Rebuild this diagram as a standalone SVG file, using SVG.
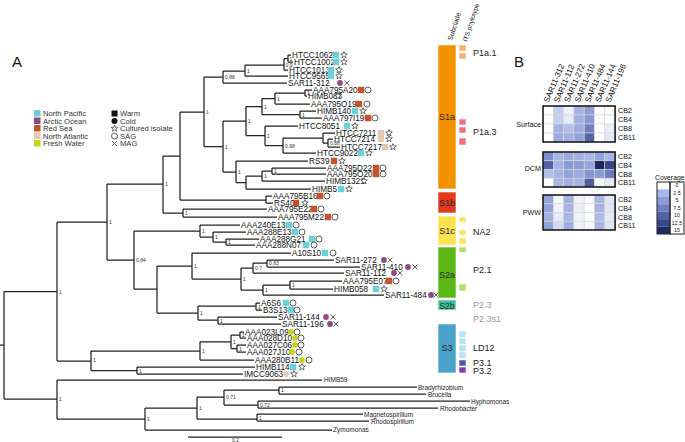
<svg xmlns="http://www.w3.org/2000/svg" xmlns:xlink="http://www.w3.org/1999/xlink" width="685" height="442" viewBox="0 0 685 442">
<style>
text{font-family:"Liberation Sans",Arial,sans-serif}
.br{fill:none;stroke:#222;stroke-width:1.25}
.tl{font-size:8.2px;fill:#111}
.sv{font-size:5px;fill:#333}
.og{font-size:6.5px;fill:#222}
.lg{font-size:7.6px;fill:#333}
.cl{font-size:9px;fill:#222}
.bl{font-size:9px;fill:#2a2a2a;text-anchor:middle}
.gr{font-size:9px;fill:#9a9a9a}
.hl{font-size:7.2px;fill:#111}
.hc{font-size:8px;fill:#111}
.hm rect{stroke:#d8d8d8;stroke-width:0.6}
.box{fill:none;stroke:#111;stroke-width:1.5}
.np{fill:#6ecfd6}.ao{fill:#8c4a86}.rs{fill:#c4522a}.na{fill:#e2cab2}.fw{fill:#c8d41a}
</style>
<defs>
<rect id="sq" x="-3.2" y="-3.2" width="6.4" height="6.4"/>
<circle id="ci" r="2.9"/>
<circle id="oc" r="3" fill="none" stroke="#333" stroke-width="0.8"/>
<polygon id="st" points="0,-3.5 0.88,-1.21 3.33,-1.08 1.43,0.46 2.06,2.83 0,1.5 -2.06,2.83 -1.43,0.46 -3.33,-1.08 -0.88,-1.21" fill="#fff" stroke="#333" stroke-width="0.7"/>
<path id="mx" d="M-2.5,-2.5L2.5,2.5M-2.5,2.5L2.5,-2.5" stroke="#555" stroke-width="0.9" fill="none"/>
</defs>
<rect width="685" height="442" fill="#fff"/>

<text x="12" y="67" style="font-size:15px" fill="#111">A</text>
<text x="514" y="67" style="font-size:15px" fill="#111">B</text>

<g id="legend">
<rect x="34" y="110" width="6.5" height="6.5" class="np"/><text x="43" y="116" class="lg">North Pacific</text>
<rect x="34" y="117.5" width="6.5" height="6.5" class="ao"/><text x="43" y="123.5" class="lg">Arctic Ocean</text>
<rect x="34" y="125" width="6.5" height="6.5" class="rs"/><text x="43" y="131" class="lg">Red Sea</text>
<rect x="34" y="132.5" width="6.5" height="6.5" class="na"/><text x="43" y="138.5" class="lg">North Atlantic</text>
<rect x="34" y="140" width="6.5" height="6.5" class="fw"/><text x="43" y="146" class="lg">Fresh Water</text>
<rect x="111.5" y="110.5" width="6" height="6" fill="#111"/><text x="120" y="116" class="lg">Warm</text>
<circle cx="114.5" cy="121" r="3" fill="#111"/><text x="120" y="123.5" class="lg">Cold</text>
<use href="#st" x="114.5" y="128.5"/><text x="120" y="131" class="lg">Cultured isolate</text>
<use href="#oc" x="114.5" y="136"/><text x="120" y="138.5" class="lg">SAG</text>
<use href="#mx" x="114.5" y="143.5"/><text x="120" y="146" class="lg">MAG</text>
</g>

<g id="branches">
<path class="br" d="M0,345H4M4,291.5V399M4,291.5H57M57,222V361M57,222H107M107,184V260M107,184H163M163,156V213M163,156H180M180,112V200M180,112H204M204,77V146.5M204,77H223M223,71V83M223,71H245M245,65V76M245,65H284M284,58.5V70M284,58.5H288M288,55V62M288,55H291M288,62H293M284,70H288M245,76H288M223,83H287M204,146.5H223M223,121V172M223,121H246M246,106.5V135.5M246,106.5H262M262,98.5V114.5M262,98.5H275M275,93V104M275,93H305M305,90V96M305,90H312M305,96H307M275,104H310M262,114.5H300M300,111V118M300,111H316M300,118H322M246,135.5H265M265,126V145.5M265,126H298M265,145.5H283M283,138V153M283,138H323M323,133V143M323,133H335M323,143H328M328,139V147M328,139H333M328,147H340M283,153H316M223,172H236M236,161V182.5M236,161H308M236,182.5H246M246,176V189M246,176H262M262,171V181M262,171H272M272,168V174M272,168H326M272,174H326M262,181H325M246,189H311M180,200H266M266,196V203M266,196H272M266,203H273M163,213H183M183,209V217M183,209H267M183,217H277M107,260H134M134,231V289M134,231H200M200,225V237M200,225H240M200,237H213M213,232V242M213,232H246M213,242H226M226,239V245M226,239H259M226,245H255M134,289H157M157,266V313M157,266H192M192,253V279M192,253H291M192,279H241M241,268V290M241,268H253M253,263V273M253,263H267M267,260V267M267,260H334M267,267H360M253,273H344M241,290H263M263,285V295M263,285H290M290,281V289M290,281H342M290,289H333M263,295H384M157,313H198M198,306V320M198,306H256M256,303V310M256,303H260M256,310H262M198,320H218M218,317V324M218,317H277M218,324H281M57,361H91M91,351V370.5M91,351H200M200,341.75V360M200,341.75H231M231,335V348.5M231,335H240M240,332V338M240,332H244M240,338H246M231,348.5H237M237,345V352M237,345H246M237,352H246M200,360H254M91,370.5H137M137,367V374M137,367H255M137,374H243M4,399H57M57,380V419M57,380H322M57,419H145M145,408V430M145,408H197M197,397V419M197,397H224M224,390V405M224,390H279M279,387V394M279,387H417M279,394H426M224,405H258M258,401V408M258,401H470M258,408H438M197,419H257M257,414V421M257,414H363M257,421H369M145,430H332"/>
<path class="br" d="M188,437H282"/>
</g>

<g id="support">
<text class="sv" x="59" y="293.5">1</text>
<text class="sv" x="109" y="224">1</text>
<text class="sv" x="165" y="186">1</text>
<text class="sv" x="206" y="114">1</text>
<text class="sv" x="225" y="79">0.88</text>
<text class="sv" x="247" y="73">1</text>
<text class="sv" x="285.5" y="66.5">0.9</text>
<text class="sv" x="289.5" y="60.5">1</text>
<text class="sv" x="225" y="148.5">1</text>
<text class="sv" x="248" y="123">1</text>
<text class="sv" x="264" y="108.5">1</text>
<text class="sv" x="277" y="100.5">1</text>
<text class="sv" x="307" y="95">1</text>
<text class="sv" x="302" y="116.5">1</text>
<text class="sv" x="267" y="137.5">1</text>
<text class="sv" x="285" y="147.5">0.98</text>
<text class="sv" x="330" y="145">0.88</text>
<text class="sv" x="238" y="174">1</text>
<text class="sv" x="264" y="178">1</text>
<text class="sv" x="274" y="173">1</text>
<text class="sv" x="185" y="215">1</text>
<text class="sv" x="136" y="262">0.84</text>
<text class="sv" x="202" y="233">1</text>
<text class="sv" x="215" y="239">1</text>
<text class="sv" x="228" y="244">1</text>
<text class="sv" x="194" y="268">1</text>
<text class="sv" x="243" y="281">1</text>
<text class="sv" x="255" y="270">0.7</text>
<text class="sv" x="269" y="264.5">0.63</text>
<text class="sv" x="265" y="292">1</text>
<text class="sv" x="292" y="287">1</text>
<text class="sv" x="200" y="315">1</text>
<text class="sv" x="258" y="308.5">1</text>
<text class="sv" x="220" y="322.5">1</text>
<text class="sv" x="93" y="362">1</text>
<text class="sv" x="202" y="353">1</text>
<text class="sv" x="233" y="344">1</text>
<text class="sv" x="242" y="337">1</text>
<text class="sv" x="239" y="350.5">1</text>
<text class="sv" x="139" y="372.5">1</text>
<text class="sv" x="59" y="401">1</text>
<text class="sv" x="147" y="421">1</text>
<text class="sv" x="199" y="410">1</text>
<text class="sv" x="226" y="399">0.71</text>
<text class="sv" x="281" y="392">1</text>
<text class="sv" x="260" y="406.5">0.72</text>
<text class="sv" x="259" y="419.5">1</text>
<text class="sv" x="232" y="441.5">0.2</text>
</g>

<g id="tips">
<g id="t-HTCC1062"><text class="tl" x="292" y="58">HTCC1062</text><use href="#sq" x="336" y="55" class="np"/><use href="#st" x="344" y="55"/></g>
<g id="t-HTCC1002"><text class="tl" x="294" y="65">HTCC1002</text><use href="#sq" x="336" y="62" class="np"/><use href="#st" x="344" y="62"/></g>
<g id="t-HTCC1013"><text class="tl" x="289" y="73">HTCC1013</text><use href="#sq" x="331" y="70" class="np"/><use href="#st" x="339" y="70"/></g>
<g id="t-HTCC9565"><text class="tl" x="289" y="79">HTCC9565</text><use href="#sq" x="331" y="76" class="np"/><use href="#st" x="339" y="76"/></g>
<g id="t-SAR11-312"><text class="tl" x="288" y="86">SAR11-312</text><use href="#ci" x="340" y="83" class="ao"/><use href="#mx" x="347" y="83"/></g>
<g id="t-AAA795A20"><text class="tl" x="313" y="93">AAA795A20</text><use href="#sq" x="361" y="90" class="rs"/><use href="#oc" x="368" y="90"/></g>
<g id="t-HIMB083"><text class="tl" x="308" y="99">HIMB083</text><use href="#st" x="338" y="96"/></g>
<g id="t-AAA795O19"><text class="tl" x="311" y="107">AAA795O19</text><use href="#sq" x="359" y="104" class="rs"/><use href="#oc" x="367" y="104"/></g>
<g id="t-HIMB140"><text class="tl" x="317" y="114">HIMB140</text><use href="#sq" x="355" y="111" class="np"/><use href="#st" x="363" y="111"/></g>
<g id="t-AAA797I19"><text class="tl" x="323" y="121">AAA797I19</text><use href="#sq" x="368" y="118" class="rs"/><use href="#oc" x="375" y="118"/></g>
<g id="t-HTCC8051"><text class="tl" x="299" y="129">HTCC8051</text><use href="#sq" x="347" y="126" class="np"/><use href="#st" x="355" y="126"/></g>
<g id="t-HTCC7211"><text class="tl" x="336" y="136">HTCC7211</text><use href="#sq" x="381" y="133" class="na"/><use href="#st" x="389" y="133"/></g>
<g id="t-HTCC7214"><text class="tl" x="334" y="142">HTCC7214</text><use href="#sq" x="381" y="139" class="na"/><use href="#st" x="389" y="139"/></g>
<g id="t-HTCC7217"><text class="tl" x="341" y="150">HTCC7217</text><use href="#sq" x="385" y="147" class="na"/><use href="#st" x="393" y="147"/></g>
<g id="t-HTCC9022"><text class="tl" x="317" y="156">HTCC9022</text><use href="#sq" x="361" y="153" class="np"/><use href="#st" x="369" y="153"/></g>
<g id="t-RS39"><text class="tl" x="309" y="164">RS39</text><use href="#sq" x="334" y="161" class="rs"/><use href="#st" x="342" y="161"/></g>
<g id="t-AAA795D22"><text class="tl" x="327" y="171">AAA795D22</text><use href="#sq" x="376" y="168" class="rs"/><use href="#oc" x="383" y="168"/></g>
<g id="t-AAA795O20"><text class="tl" x="327" y="177">AAA795O20</text><use href="#sq" x="376" y="174" class="rs"/><use href="#oc" x="383" y="174"/></g>
<g id="t-HIMB1321"><text class="tl" x="326" y="184">HIMB1321</text><use href="#st" x="364" y="181"/></g>
<g id="t-HIMB5"><text class="tl" x="312" y="192">HIMB5</text><use href="#sq" x="341" y="189" class="np"/><use href="#st" x="349" y="189"/></g>
<g id="t-AAA795B16"><text class="tl" x="273" y="199">AAA795B16</text><use href="#sq" x="320" y="196" class="rs"/><use href="#oc" x="327" y="196"/></g>
<g id="t-RS40"><text class="tl" x="274" y="206">RS40</text><use href="#sq" x="296" y="203" class="rs"/><use href="#st" x="305" y="203"/></g>
<g id="t-AAA795E22"><text class="tl" x="268" y="212">AAA795E22</text><use href="#sq" x="314" y="209" class="rs"/><use href="#oc" x="321" y="209"/></g>
<g id="t-AAA795M22"><text class="tl" x="278" y="220">AAA795M22</text><use href="#sq" x="328" y="217" class="rs"/><use href="#oc" x="335" y="217"/></g>
<g id="t-AAA240E13"><text class="tl" x="241" y="228">AAA240E13</text><use href="#sq" x="289" y="225" class="np"/><use href="#oc" x="296" y="225"/></g>
<g id="t-AAA288E13"><text class="tl" x="247" y="235">AAA288E13</text><use href="#sq" x="295" y="232" class="np"/><use href="#oc" x="302" y="232"/></g>
<g id="t-AAA288G21"><text class="tl" x="260" y="242">AAA288G21</text><use href="#sq" x="312" y="239" class="np"/><use href="#oc" x="319" y="239"/></g>
<g id="t-AAA288N07"><text class="tl" x="256" y="248">AAA288N07</text><use href="#sq" x="306" y="245" class="np"/><use href="#oc" x="314" y="245"/></g>
<g id="t-A10S10"><text class="tl" x="292" y="256">A10S10</text><use href="#sq" x="325" y="253" class="np"/><use href="#oc" x="333" y="253"/></g>
<g id="t-SAR11-272"><text class="tl" x="335" y="263">SAR11-272</text><use href="#ci" x="384" y="260" class="ao"/><use href="#mx" x="390" y="260"/></g>
<g id="t-SAR11-410"><text class="tl" x="361" y="270">SAR11-410</text><use href="#ci" x="408" y="267" class="ao"/><use href="#mx" x="415" y="267"/></g>
<g id="t-SAR11-112"><text class="tl" x="345" y="276">SAR11-112</text><use href="#ci" x="394" y="273" class="ao"/><use href="#mx" x="400" y="273"/></g>
<g id="t-AAA795E07"><text class="tl" x="343" y="284">AAA795E07</text><use href="#sq" x="389" y="281" class="rs"/><use href="#oc" x="396" y="281"/></g>
<g id="t-HIMB058"><text class="tl" x="334" y="292">HIMB058</text><use href="#sq" x="376" y="289" class="np"/><use href="#st" x="384" y="289"/></g>
<g id="t-SAR11-484"><text class="tl" x="385" y="298">SAR11-484</text><use href="#ci" x="431" y="295" class="ao"/><use href="#mx" x="436" y="295"/></g>
<g id="t-A6S6"><text class="tl" x="261" y="306">A6S6</text><use href="#sq" x="286" y="303" class="np"/><use href="#oc" x="293" y="303"/></g>
<g id="t-B3S13"><text class="tl" x="263" y="313">B3S13</text><use href="#sq" x="291" y="310" class="np"/><use href="#oc" x="297" y="310"/></g>
<g id="t-SAR11-144"><text class="tl" x="278" y="320">SAR11-144</text><use href="#ci" x="326" y="317" class="ao"/><use href="#mx" x="333" y="317"/></g>
<g id="t-SAR11-196"><text class="tl" x="282" y="327">SAR11-196</text><use href="#ci" x="330" y="324" class="ao"/><use href="#mx" x="336" y="324"/></g>
<g id="t-AAA023L09"><text class="tl" x="245" y="335">AAA023L09</text><use href="#ci" x="291" y="332" class="fw"/><use href="#oc" x="297" y="332"/></g>
<g id="t-AAA028D10"><text class="tl" x="247" y="341">AAA028D10</text><use href="#ci" x="295" y="338" class="fw"/><use href="#oc" x="301" y="338"/></g>
<g id="t-AAA027C06"><text class="tl" x="247" y="348">AAA027C06</text><use href="#ci" x="295" y="345" class="fw"/><use href="#oc" x="301" y="345"/></g>
<g id="t-AAA027J10"><text class="tl" x="247" y="355">AAA027J10</text><use href="#ci" x="292" y="352" class="fw"/><use href="#oc" x="299" y="352"/></g>
<g id="t-AAA280B11"><text class="tl" x="255" y="363">AAA280B11</text><use href="#ci" x="302" y="360" class="fw"/><use href="#oc" x="309" y="360"/></g>
<g id="t-HIMB114"><text class="tl" x="256" y="370">HIMB114</text><use href="#sq" x="293" y="367" class="np"/><use href="#st" x="302" y="367"/></g>
<g id="t-IMCC9063"><text class="tl" x="244" y="377">IMCC9063</text><use href="#ci" x="286" y="374" class="na"/><use href="#st" x="294" y="374"/></g>
<g id="t-HIMB59"><text class="og" x="324" y="381.5">HIMB59</text></g>
<g id="t-Bradyrhizobium"><text class="og" x="418" y="389.5">Bradyrhizobium</text></g>
<g id="t-Brucella"><text class="og" x="428" y="396.5">Brucella</text></g>
<g id="t-Hyphomonas"><text class="og" x="471" y="403.5">Hyphomonas</text></g>
<g id="t-Rhodobacter"><text class="og" x="440" y="410.5">Rhodobacter</text></g>
<g id="t-Magnetospirillum"><text class="og" x="364" y="416.5">Magnetospirillum</text></g>
<g id="t-Rhodospirillum"><text class="og" x="371" y="423.5">Rhodospirillum</text></g>
<g id="t-Zymomonas"><text class="og" x="333" y="432">Zymomonas</text></g>
</g>

<g id="clades">
<text transform="translate(452,41) rotate(-72)" style="font-size:7px" fill="#222">Subclade</text>
<text transform="translate(467,42) rotate(-72)" style="font-size:6.5px" fill="#222">ITS phylotype</text>
<g stroke="#fff" stroke-width="0.6">
<rect x="438" y="45" width="18" height="144" fill="#f39200"/>
<rect x="438" y="192" width="18" height="21" fill="#e33a1c"/>
<rect x="438" y="216" width="18" height="29" fill="#fbe24f"/>
<rect x="438" y="247" width="18" height="51" fill="#5bb714"/>
<rect x="438" y="300" width="18" height="10" fill="#3cc19b"/>
<rect x="438" y="324" width="18" height="49" fill="#4aa2c8"/>
<rect x="459" y="45" width="7" height="6" fill="#fbb06c"/>
<rect x="459" y="53" width="7" height="6" fill="#fbb06c"/>
<rect x="459" y="119" width="7" height="6" fill="#f26d82"/>
<rect x="459" y="127" width="7" height="6" fill="#f26d82"/>
<rect x="459" y="138" width="7" height="7" fill="#f26d82"/>
<rect x="459" y="217" width="7" height="5" fill="#fce45a"/>
<rect x="459" y="230" width="7" height="5" fill="#fce45a"/>
<rect x="459" y="238" width="7" height="6" fill="#fce45a"/>
<rect x="459" y="247" width="7" height="5.5" fill="#b3df6a"/>
<rect x="459" y="284" width="7" height="7" fill="#b3df6a"/>
<rect x="459" y="331" width="7" height="6.5" fill="#b8e2f2"/>
<rect x="459" y="338" width="7" height="6.5" fill="#b8e2f2"/>
<rect x="459" y="345" width="7" height="6.5" fill="#b8e2f2"/>
<rect x="459" y="352" width="7" height="6.5" fill="#b8e2f2"/>
<rect x="459" y="360" width="7" height="6" fill="#4657b0"/>
<rect x="459" y="367" width="7" height="6" fill="#7d3bb5"/>
</g>
<text class="bl" x="447" y="120">S1a</text>
<text class="bl" x="447" y="206">S1b</text>
<text class="bl" x="447" y="234">S1c</text>
<text class="bl" x="447" y="278">S2a</text>
<text class="bl" x="447" y="308.5" style="font-size:8.5px">S2b</text>
<text class="bl" x="447" y="351">S3</text>
<text class="cl" x="473" y="56">P1a.1</text>
<text class="cl" x="473" y="135">P1a.3</text>
<text class="cl" x="473" y="235">NA2</text>
<text class="cl" x="473" y="273">P2.1</text>
<text class="gr" x="473" y="308">P2.3</text>
<text class="gr" x="473" y="322">P2.3s1</text>
<text class="cl" x="473" y="351">LD12</text>
<text class="cl" x="473" y="366">P3.1</text>
<text class="cl" x="473" y="374">P3.2</text>
</g>

<g id="heatmap">
<g class="hc">
<text transform="translate(548.5,103) rotate(-67)">SAR11-312</text>
<text transform="translate(558.8,103) rotate(-67)">SAR11-112</text>
<text transform="translate(569.1,103) rotate(-67)">SAR11-272</text>
<text transform="translate(579.4,103) rotate(-67)">SAR11-410</text>
<text transform="translate(589.7,103) rotate(-67)">SAR11-484</text>
<text transform="translate(600,103) rotate(-67)">SAR11-144</text>
<text transform="translate(610.3,103) rotate(-67)">SAR11-196</text>
</g>
<g id="surface" class="hm">
<rect x="543" y="106" width="10.3" height="9" fill="#ffffff"/><rect x="553.3" y="106" width="10.3" height="9" fill="#c5cff0"/><rect x="563.6" y="106" width="10.3" height="9" fill="#eef1fb"/><rect x="573.9" y="106" width="10.3" height="9" fill="#a3b2e3"/><rect x="584.2" y="106" width="10.3" height="9" fill="#8d9ed9"/><rect x="594.5" y="106" width="10.3" height="9" fill="#ffffff"/><rect x="604.8" y="106" width="10.3" height="9" fill="#ffffff"/>
<rect x="543" y="115" width="10.3" height="9" fill="#ffffff"/><rect x="553.3" y="115" width="10.3" height="9" fill="#c5cff0"/><rect x="563.6" y="115" width="10.3" height="9" fill="#e6ebf8"/><rect x="573.9" y="115" width="10.3" height="9" fill="#a0afe2"/><rect x="584.2" y="115" width="10.3" height="9" fill="#8797d5"/><rect x="594.5" y="115" width="10.3" height="9" fill="#ffffff"/><rect x="604.8" y="115" width="10.3" height="9" fill="#ffffff"/>
<rect x="543" y="124" width="10.3" height="9" fill="#ffffff"/><rect x="553.3" y="124" width="10.3" height="9" fill="#a3b2e3"/><rect x="563.6" y="124" width="10.3" height="9" fill="#b3bfe8"/><rect x="573.9" y="124" width="10.3" height="9" fill="#9dabe0"/><rect x="584.2" y="124" width="10.3" height="9" fill="#6f81c4"/><rect x="594.5" y="124" width="10.3" height="9" fill="#ffffff"/><rect x="604.8" y="124" width="10.3" height="9" fill="#e9edf9"/>
<rect x="543" y="133" width="10.3" height="9" fill="#ffffff"/><rect x="553.3" y="133" width="10.3" height="9" fill="#9dacdf"/><rect x="563.6" y="133" width="10.3" height="9" fill="#a1afe1"/><rect x="573.9" y="133" width="10.3" height="9" fill="#95a5dc"/><rect x="584.2" y="133" width="10.3" height="9" fill="#5466a8"/><rect x="594.5" y="133" width="10.3" height="9" fill="#ffffff"/><rect x="604.8" y="133" width="10.3" height="9" fill="#e4e9f7"/>
</g>
<rect class="box" x="543" y="106" width="72.1" height="36"/>
<g id="dcm" class="hm">
<rect x="543" y="152" width="10.3" height="8.75" fill="#7d8fcf"/><rect x="553.3" y="152" width="10.3" height="8.75" fill="#a9b6e6"/><rect x="563.6" y="152" width="10.3" height="8.75" fill="#9aa9de"/><rect x="573.9" y="152" width="10.3" height="8.75" fill="#a3b1e2"/><rect x="584.2" y="152" width="10.3" height="8.75" fill="#a9b6e6"/><rect x="594.5" y="152" width="10.3" height="8.75" fill="#93a3db"/><rect x="604.8" y="152" width="10.3" height="8.75" fill="#a9b6e6"/>
<rect x="543" y="160.75" width="10.3" height="8.75" fill="#5062a8"/><rect x="553.3" y="160.75" width="10.3" height="8.75" fill="#a2b0e2"/><rect x="563.6" y="160.75" width="10.3" height="8.75" fill="#8899d6"/><rect x="573.9" y="160.75" width="10.3" height="8.75" fill="#8c9cd8"/><rect x="584.2" y="160.75" width="10.3" height="8.75" fill="#96a5dd"/><rect x="594.5" y="160.75" width="10.3" height="8.75" fill="#1b2660"/><rect x="604.8" y="160.75" width="10.3" height="8.75" fill="#37478a"/>
<rect x="543" y="169.5" width="10.3" height="8.75" fill="#b3bfe9"/><rect x="553.3" y="169.5" width="10.3" height="8.75" fill="#a6b4e4"/><rect x="563.6" y="169.5" width="10.3" height="8.75" fill="#93a3db"/><rect x="573.9" y="169.5" width="10.3" height="8.75" fill="#9aa9de"/><rect x="584.2" y="169.5" width="10.3" height="8.75" fill="#8595d2"/><rect x="594.5" y="169.5" width="10.3" height="8.75" fill="#8c9cd7"/><rect x="604.8" y="169.5" width="10.3" height="8.75" fill="#6a7bbf"/>
<rect x="543" y="178.25" width="10.3" height="8.75" fill="#ffffff"/><rect x="553.3" y="178.25" width="10.3" height="8.75" fill="#aab7e6"/><rect x="563.6" y="178.25" width="10.3" height="8.75" fill="#a3b1e2"/><rect x="573.9" y="178.25" width="10.3" height="8.75" fill="#a6b4e4"/><rect x="584.2" y="178.25" width="10.3" height="8.75" fill="#4d5f9f"/><rect x="594.5" y="178.25" width="10.3" height="8.75" fill="#f4f6fc"/><rect x="604.8" y="178.25" width="10.3" height="8.75" fill="#e4e9f7"/>
</g>
<rect class="box" x="543" y="152" width="72.1" height="35"/>
<g id="pww" class="hm">
<rect x="543" y="195" width="10.3" height="8.75" fill="#92a2db"/><rect x="553.3" y="195" width="10.3" height="8.75" fill="#f7f8fd"/><rect x="563.6" y="195" width="10.3" height="8.75" fill="#a3b1e2"/><rect x="573.9" y="195" width="10.3" height="8.75" fill="#f1f3fb"/><rect x="584.2" y="195" width="10.3" height="8.75" fill="#f7f8fd"/><rect x="594.5" y="195" width="10.3" height="8.75" fill="#aab6e6"/><rect x="604.8" y="195" width="10.3" height="8.75" fill="#e0e6f6"/>
<rect x="543" y="203.75" width="10.3" height="8.75" fill="#93a3db"/><rect x="553.3" y="203.75" width="10.3" height="8.75" fill="#f1f3fb"/><rect x="563.6" y="203.75" width="10.3" height="8.75" fill="#a6b4e4"/><rect x="573.9" y="203.75" width="10.3" height="8.75" fill="#edf0fa"/><rect x="584.2" y="203.75" width="10.3" height="8.75" fill="#ffffff"/><rect x="594.5" y="203.75" width="10.3" height="8.75" fill="#a6b4e4"/><rect x="604.8" y="203.75" width="10.3" height="8.75" fill="#e0e6f6"/>
<rect x="543" y="212.5" width="10.3" height="8.75" fill="#a3b1e2"/><rect x="553.3" y="212.5" width="10.3" height="8.75" fill="#e4e9f7"/><rect x="563.6" y="212.5" width="10.3" height="8.75" fill="#aab6e6"/><rect x="573.9" y="212.5" width="10.3" height="8.75" fill="#f1f3fb"/><rect x="584.2" y="212.5" width="10.3" height="8.75" fill="#ffffff"/><rect x="594.5" y="212.5" width="10.3" height="8.75" fill="#b0bce8"/><rect x="604.8" y="212.5" width="10.3" height="8.75" fill="#e4e9f7"/>
<rect x="543" y="221.25" width="10.3" height="8.75" fill="#92a2db"/><rect x="553.3" y="221.25" width="10.3" height="8.75" fill="#d3daf3"/><rect x="563.6" y="221.25" width="10.3" height="8.75" fill="#9fade1"/><rect x="573.9" y="221.25" width="10.3" height="8.75" fill="#edf0fa"/><rect x="584.2" y="221.25" width="10.3" height="8.75" fill="#f7f8fd"/><rect x="594.5" y="221.25" width="10.3" height="8.75" fill="#a6b4e4"/><rect x="604.8" y="221.25" width="10.3" height="8.75" fill="#dde3f5"/>
</g>
<rect class="box" x="543" y="195" width="72.1" height="35"/>
<g class="hl">
<text x="618" y="113">CB2</text><text x="618" y="122">CB4</text><text x="618" y="131">CB8</text><text x="618" y="140">CB11</text>
<text x="618" y="159">CB2</text><text x="618" y="167.7">CB4</text><text x="618" y="176.5">CB8</text><text x="618" y="185.2">CB11</text>
<text x="618" y="202">CB2</text><text x="618" y="210.7">CB4</text><text x="618" y="219.5">CB8</text><text x="618" y="228.2">CB11</text>
</g>
<g class="hl" text-anchor="end">
<text x="541" y="127">Surface</text>
<text x="541" y="171">DCM</text>
<text x="541" y="214.5">PWW</text>
</g>
</g>

<g id="coverage">
<text x="655" y="179.5" style="font-size:6.8px" fill="#111">Coverage</text>
<rect x="657" y="182" width="13" height="7.43" fill="#ffffff"/>
<rect x="657" y="189.43" width="13" height="7.43" fill="#a9b5e6"/>
<rect x="657" y="196.86" width="13" height="7.43" fill="#8c9bd6"/>
<rect x="657" y="204.29" width="13" height="7.43" fill="#6e7fc0"/>
<rect x="657" y="211.71" width="13" height="7.43" fill="#5262a5"/>
<rect x="657" y="219.14" width="13" height="7.43" fill="#37478a"/>
<rect x="657" y="226.57" width="13" height="7.43" fill="#1f2b62"/>
<rect x="657" y="182" width="13" height="52" fill="none" stroke="#222" stroke-width="1"/>
<rect x="670" y="182" width="14" height="52" fill="none" stroke="#222" stroke-width="1"/>
<g style="font-size:5.3px" fill="#111" text-anchor="middle">
<text x="677" y="187">0</text><text x="677" y="194.5">2.5</text><text x="677" y="202">5</text><text x="677" y="209.5">7.5</text><text x="677" y="217">10</text><text x="677" y="224.5">12.5</text><text x="677" y="232">15</text>
</g>
</g>
</svg>
